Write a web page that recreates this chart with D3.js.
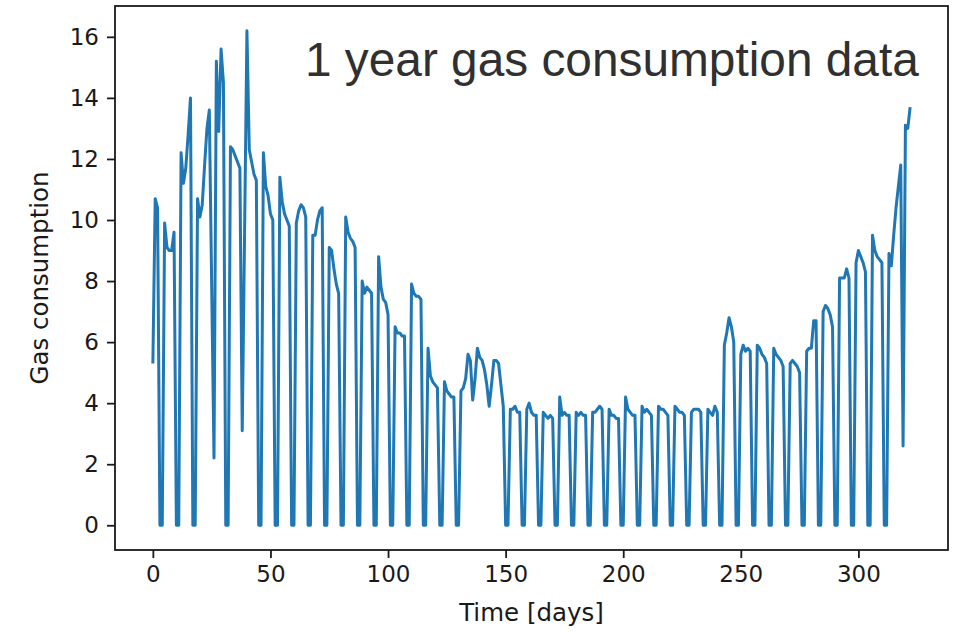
<!DOCTYPE html>
<html>
<head>
<meta charset="utf-8">
<script src="https://cdn.jsdelivr.net/npm/d3@7"></script>
<style>
  html, body { margin: 0; padding: 0; background: #ffffff; }
  svg { display: block; }
</style>
</head>
<body>
<svg id="chart" width="965" height="634"></svg>
<script>
// Daily gas consumption, one value per day (weekends usually drop to zero)
const gasConsumption = [
  5.3, 10.7, 10.4, 0, 0,
  9.9, 9.1, 9.0, 9.0, 9.6, 0, 0,
  12.2, 11.2, 11.7, 12.8, 14.0, 0, 0,
  10.7, 10.1, 10.5, 11.8, 13.0, 13.6, 7.9,
  2.2, 15.2, 12.9, 15.6, 14.5, 0, 0,
  12.4, 12.3, 12.1, 11.9, 11.7, 3.1, 9.6,
  16.2, 12.3, 11.9, 11.5, 11.3, 0, 0,
  12.2, 11.1, 10.8, 10.2, 10.0, 0, 0,
  11.4, 10.6, 10.2, 10.0, 9.8, 0, 0,
  9.9, 10.3, 10.5, 10.4, 10.1, 0, 0,
  9.5, 9.5, 10.0, 10.3, 10.4, 0, 0,
  9.1, 9.0, 8.4, 7.9, 7.6, 0, 0,
  10.1, 9.6, 9.4, 9.3, 9.1, 0, 0,
  8.0, 7.6, 7.8, 7.7, 7.6, 0, 0,
  8.8, 7.8, 7.4, 7.3, 6.9, 0, 0,
  6.5, 6.3, 6.3, 6.2, 6.2, 0, 0,
  7.9, 7.6, 7.5, 7.5, 7.4, 0, 0,
  5.8, 4.9, 4.7, 4.6, 4.5, 0, 0,
  4.7, 4.4, 4.3, 4.2, 4.2, 0, 0,
  4.4, 4.5, 4.8, 5.6, 5.4, 4.1, 4.8,
  5.8, 5.5, 5.4, 5.1, 4.6, 3.9, 4.6,
  5.4, 5.4, 5.3, 4.6, 3.9, 0, 0,
  3.8, 3.8, 3.9, 3.7, 3.7, 0, 0,
  3.8, 4.0, 3.7, 3.6, 3.6, 0, 0,
  3.7, 3.6, 3.5, 3.6, 3.5, 0, 0,
  4.2, 3.6, 3.7, 3.6, 3.6, 0, 0,
  3.7, 3.6, 3.7, 3.6, 3.6, 0, 0,
  3.7, 3.7, 3.8, 3.9, 3.8, 0, 0,
  3.8, 3.6, 3.6, 3.5, 3.5, 0, 0,
  4.2, 3.8, 3.7, 3.6, 3.6, 0, 0,
  3.9, 3.7, 3.8, 3.7, 3.6, 0, 0,
  3.9, 3.8, 3.8, 3.7, 3.6, 0, 0,
  3.9, 3.8, 3.7, 3.7, 3.6, 0, 0,
  3.7, 3.8, 3.8, 3.8, 3.7, 0, 0,
  3.8, 3.7, 3.6, 3.9, 3.7, 0, 0,
  5.9, 6.3, 6.8, 6.5, 6.0, 0, 0,
  5.6, 5.9, 5.7, 5.8, 5.7, 0, 0,
  5.9, 5.8, 5.6, 5.5, 5.3, 0, 0,
  5.8, 5.6, 5.5, 5.4, 5.2, 0, 0,
  5.3, 5.4, 5.3, 5.2, 5.0, 0, 0,
  5.7, 5.8, 5.8, 6.7, 6.7, 0, 0,
  7.0, 7.2, 7.1, 6.9, 6.5, 0, 0,
  8.1, 8.1, 8.1, 8.4, 8.1, 0, 0,
  8.6, 9.0, 8.8, 8.6, 8.3, 0, 0,
  9.5, 9.0, 8.8, 8.7, 8.6, 0, 0,
  8.9, 8.5, 9.5, 10.4, 11.1, 11.8, 2.6,
  13.1, 13.0, 13.7
];

const xTickValues = [0, 50, 100, 150, 200, 250, 300];
const yTickValues = [0, 2, 4, 6, 8, 10, 12, 14, 16];
const xLabel = "Time [days]";
const yLabel = "Gas consumption";
const annotation = "1 year gas consumption data";

// ---- layout ----
const frame = { left: 115, right: 948, top: 6, bottom: 550 };
const axisFont = "'DejaVu Sans', Verdana, sans-serif";
const tickFontSize = 23;
const labelFontSize = 24.5;
const lineColor = "#1f77b4";
const inkColor = "#1a1a1a";

const n = gasConsumption.length;
const days = d3.range(n);
const xPad = 0.05 * (n - 1);
const yLo = d3.min(gasConsumption), yHi = d3.max(gasConsumption);
const yPad = 0.05 * (yHi - yLo);

const x = d3.scaleLinear()
  .domain([-xPad, (n - 1) + xPad])
  .range([frame.left, frame.right]);
const y = d3.scaleLinear()
  .domain([yLo - yPad, yHi + yPad])
  .range([frame.bottom, frame.top]);

const svg = d3.select("#chart");

// data line, clipped to the axes box
svg.append("clipPath").attr("id", "plot-clip")
  .append("rect")
  .attr("x", frame.left).attr("y", frame.top)
  .attr("width", frame.right - frame.left)
  .attr("height", frame.bottom - frame.top);

const line = d3.line()
  .x((d, i) => x(days[i]))
  .y(d => y(d));

svg.append("path")
  .datum(gasConsumption)
  .attr("clip-path", "url(#plot-clip)")
  .attr("fill", "none")
  .attr("stroke", lineColor)
  .attr("stroke-width", 3)
  .attr("stroke-linejoin", "round")
  .attr("stroke-linecap", "butt")
  .attr("d", line);

// axes
function styleAxis(g) {
  g.select(".domain").remove();
  g.selectAll(".tick line").attr("stroke", inkColor).attr("stroke-width", 1.8);
  g.selectAll(".tick text")
    .attr("fill", inkColor)
    .style("font-family", axisFont)
    .style("font-size", tickFontSize + "px");
}

svg.append("g")
  .attr("transform", `translate(0,${frame.bottom})`)
  .call(d3.axisBottom(x).tickValues(xTickValues).tickSize(8).tickPadding(8).tickFormat(d3.format("d")))
  .call(styleAxis);

svg.append("g")
  .attr("transform", `translate(${frame.left},0)`)
  .call(d3.axisLeft(y).tickValues(yTickValues).tickSize(8).tickPadding(8).tickFormat(d3.format("d")))
  .call(styleAxis);

// axes box
svg.append("rect")
  .attr("x", frame.left).attr("y", frame.top)
  .attr("width", frame.right - frame.left)
  .attr("height", frame.bottom - frame.top)
  .attr("fill", "none")
  .attr("stroke", inkColor)
  .attr("stroke-width", 1.8);

// axis titles
svg.append("text")
  .attr("x", (frame.left + frame.right) / 2)
  .attr("y", 621)
  .attr("text-anchor", "middle")
  .attr("fill", inkColor)
  .style("font-family", axisFont)
  .style("font-size", labelFontSize + "px")
  .text(xLabel);

svg.append("text")
  .attr("transform", `translate(48,${(frame.top + frame.bottom) / 2}) rotate(-90)`)
  .attr("text-anchor", "middle")
  .attr("fill", inkColor)
  .style("font-family", axisFont)
  .style("font-size", labelFontSize + "px")
  .text(yLabel);

// headline inside the plot
svg.append("text")
  .attr("x", 305)
  .attr("y", 76)
  .attr("fill", "#303030")
  .style("font-family", "'Liberation Sans', Arial, sans-serif")
  .style("font-size", "47.8px")
  .text(annotation);
</script>
</body>
</html>
